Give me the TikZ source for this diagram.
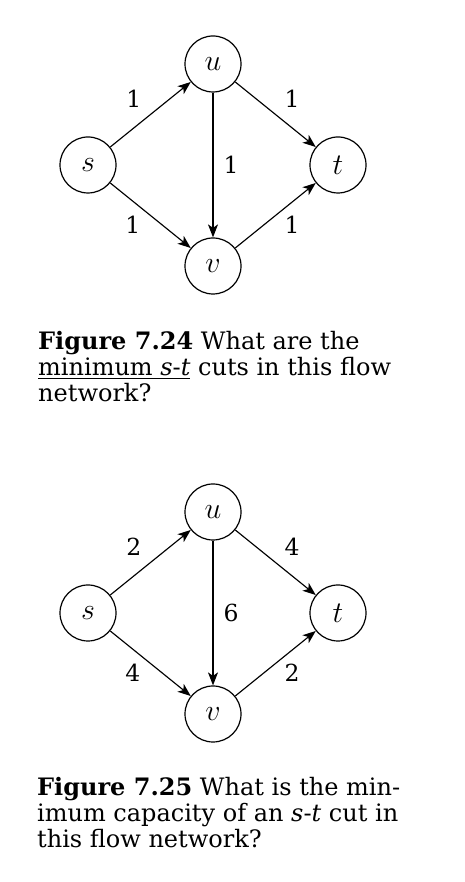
\RequirePackage{fix-cm}
\documentclass[tikz,border=0pt]{standalone}
\usepackage{fontspec}
\setmainfont{DejaVu Serif}
\usepackage{tikz}
\usetikzlibrary{arrows.meta,positioning}

\begin{document}
\begin{tikzpicture}[
        x=1pt, y=1pt,
        node distance=101pt and 125pt, on grid,
        vertex/.style={draw, circle, minimum size=56pt, inner sep=0pt, line width=1.2pt, font=\fontsize{30}{30}\selectfont},
        arr/.style={-{Stealth[length=13pt, width=10pt, inset=3.5pt]}, line width=1.15pt},
        lbl/.style={inner sep=0pt, font=\fontsize{23.5}{26}\selectfont},
        capt/.style={anchor=base west, inner sep=0pt, align=left, font=\fontsize{24}{26}\selectfont},
    ]
        \useasboundingbox (0,0) rectangle (465,882);
        % Figure 7.24
        \node[vertex] (s1) at (88,717) {$s$};
        \node[vertex, above right=of s1] (u1) {$u$};
        \node[vertex, below right=of u1] (t1) {$t$};
        \node[vertex, below=202pt of u1] (v1) {$v$};
        \draw[arr] (s1) -- node[lbl, above left=6pt and 8.5pt] {1} (u1);
        \draw[arr] (u1) -- node[lbl, above right=6pt and 8.5pt] {1} (t1);
        \draw[arr] (u1) -- node[lbl, right=10pt] {1} (v1);
        \draw[arr] (s1) -- node[lbl, below left=0pt and 9.5pt] {1} (v1);
        \draw[arr] (v1) -- node[lbl, below right=0pt and 8.5pt] {1} (t1);
        \node[capt] (cap1) at (38,480) {\textbf{Figure 7.24} What are the\\
            \underline{minimum \textit{s}-\textit{t}} cuts in this flow\\
            network?};
        % Figure 7.25
        \node[vertex] (s2) at (88,269) {$s$};
        \node[vertex, above right=of s2] (u2) {$u$};
        \node[vertex, below right=of u2] (t2) {$t$};
        \node[vertex, below=202pt of u2] (v2) {$v$};
        \draw[arr] (s2) -- node[lbl, above left=6pt and 8.5pt] {2} (u2);
        \draw[arr] (u2) -- node[lbl, above right=6pt and 8.5pt] {4} (t2);
        \draw[arr] (u2) -- node[lbl, right=10pt] {6} (v2);
        \draw[arr] (s2) -- node[lbl, below left=0pt and 9.5pt] {4} (v2);
        \draw[arr] (v2) -- node[lbl, below right=0pt and 8.5pt] {2} (t2);
        \node[capt] (cap2) at (37,34) {\textbf{Figure 7.25} What is the min-\\
            imum capacity of an \textit{s}-\textit{t} cut in\\
            this flow network?};
    \end{tikzpicture}
\end{document}
